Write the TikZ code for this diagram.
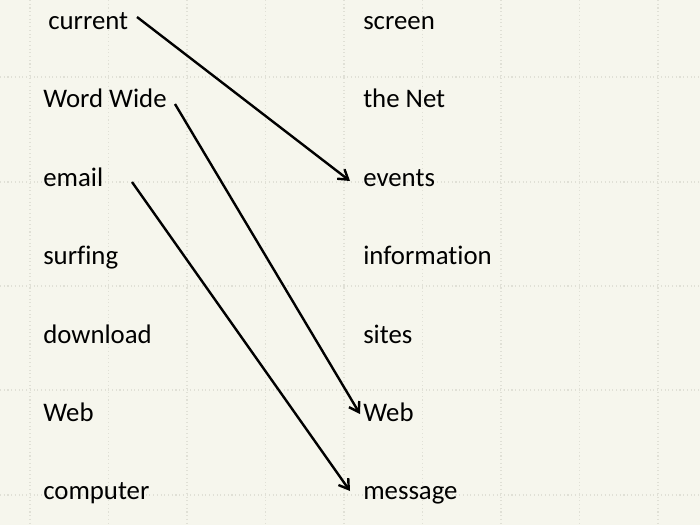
\documentclass[tikz,border=0pt]{standalone}
\usepackage{fontspec}
\setmainfont{Carlito}[Ligatures=NoCommon]
\usetikzlibrary{arrows.meta}
\definecolor{paper}{RGB}{246,246,237}
\definecolor{gridc}{RGB}{224,224,214}
\tikzset{
  word/.style={anchor=base west, inner sep=0pt, font=\fontsize{20.1}{24}\selectfont},
  link/.style={line width=1.8pt, -{Straight Barb[length=7pt,width=9pt,line width=1.8pt]}},
  gridline/.style={gridc, line width=0.8pt, dotted}
}
\begin{document}
\begin{tikzpicture}[x=0.75pt,y=-0.75pt]
\fill[paper] (0,0) rectangle (700,525);
\useasboundingbox (0,0) rectangle (700,525);
\foreach \gx in {30,108.5,187,265.5,344,422.5,501,579.5,658}
  \draw[gridline] (\gx,0) -- (\gx,525);
\foreach \gy in {77,182,286,390,495}
  \draw[gridline] (0,\gy) -- (700,\gy);
% left column
\node[word] (current) at (48,29) {current};
\node[word] (wordwide) at (43,107) {Word Wide};
\node[word] (email) at (43,186) {email};
\node[word] (surfing) at (43,264) {surfing};
\node[word] (download) at (43,343) {download};
\node[word] (webL) at (43,421) {Web};
\node[word] (computer) at (43,499) {computer};
% right column
\node[word] (screen) at (363,29) {screen};
\node[word] (thenet) at (363,107) {the Net};
\node[word] (events) at (363,186) {events};
\node[word] (information) at (363,264) {information};
\node[word] (sites) at (363,343) {sites};
\node[word] (webR) at (363,421) {Web};
\node[word] (message) at (363,499) {message};
% arrow end points
\coordinate (a1s) at (137,17);
\coordinate (a1e) at (350,181);
\coordinate (a2s) at (175,104);
\coordinate (a2e) at (360,414);
\coordinate (a3s) at (132,182);
\coordinate (a3e) at (350,491);
\draw[link] (a1s) -- (a1e);
\draw[link] (a2s) -- (a2e);
\draw[link] (a3s) -- (a3e);
\end{tikzpicture}
\end{document}
